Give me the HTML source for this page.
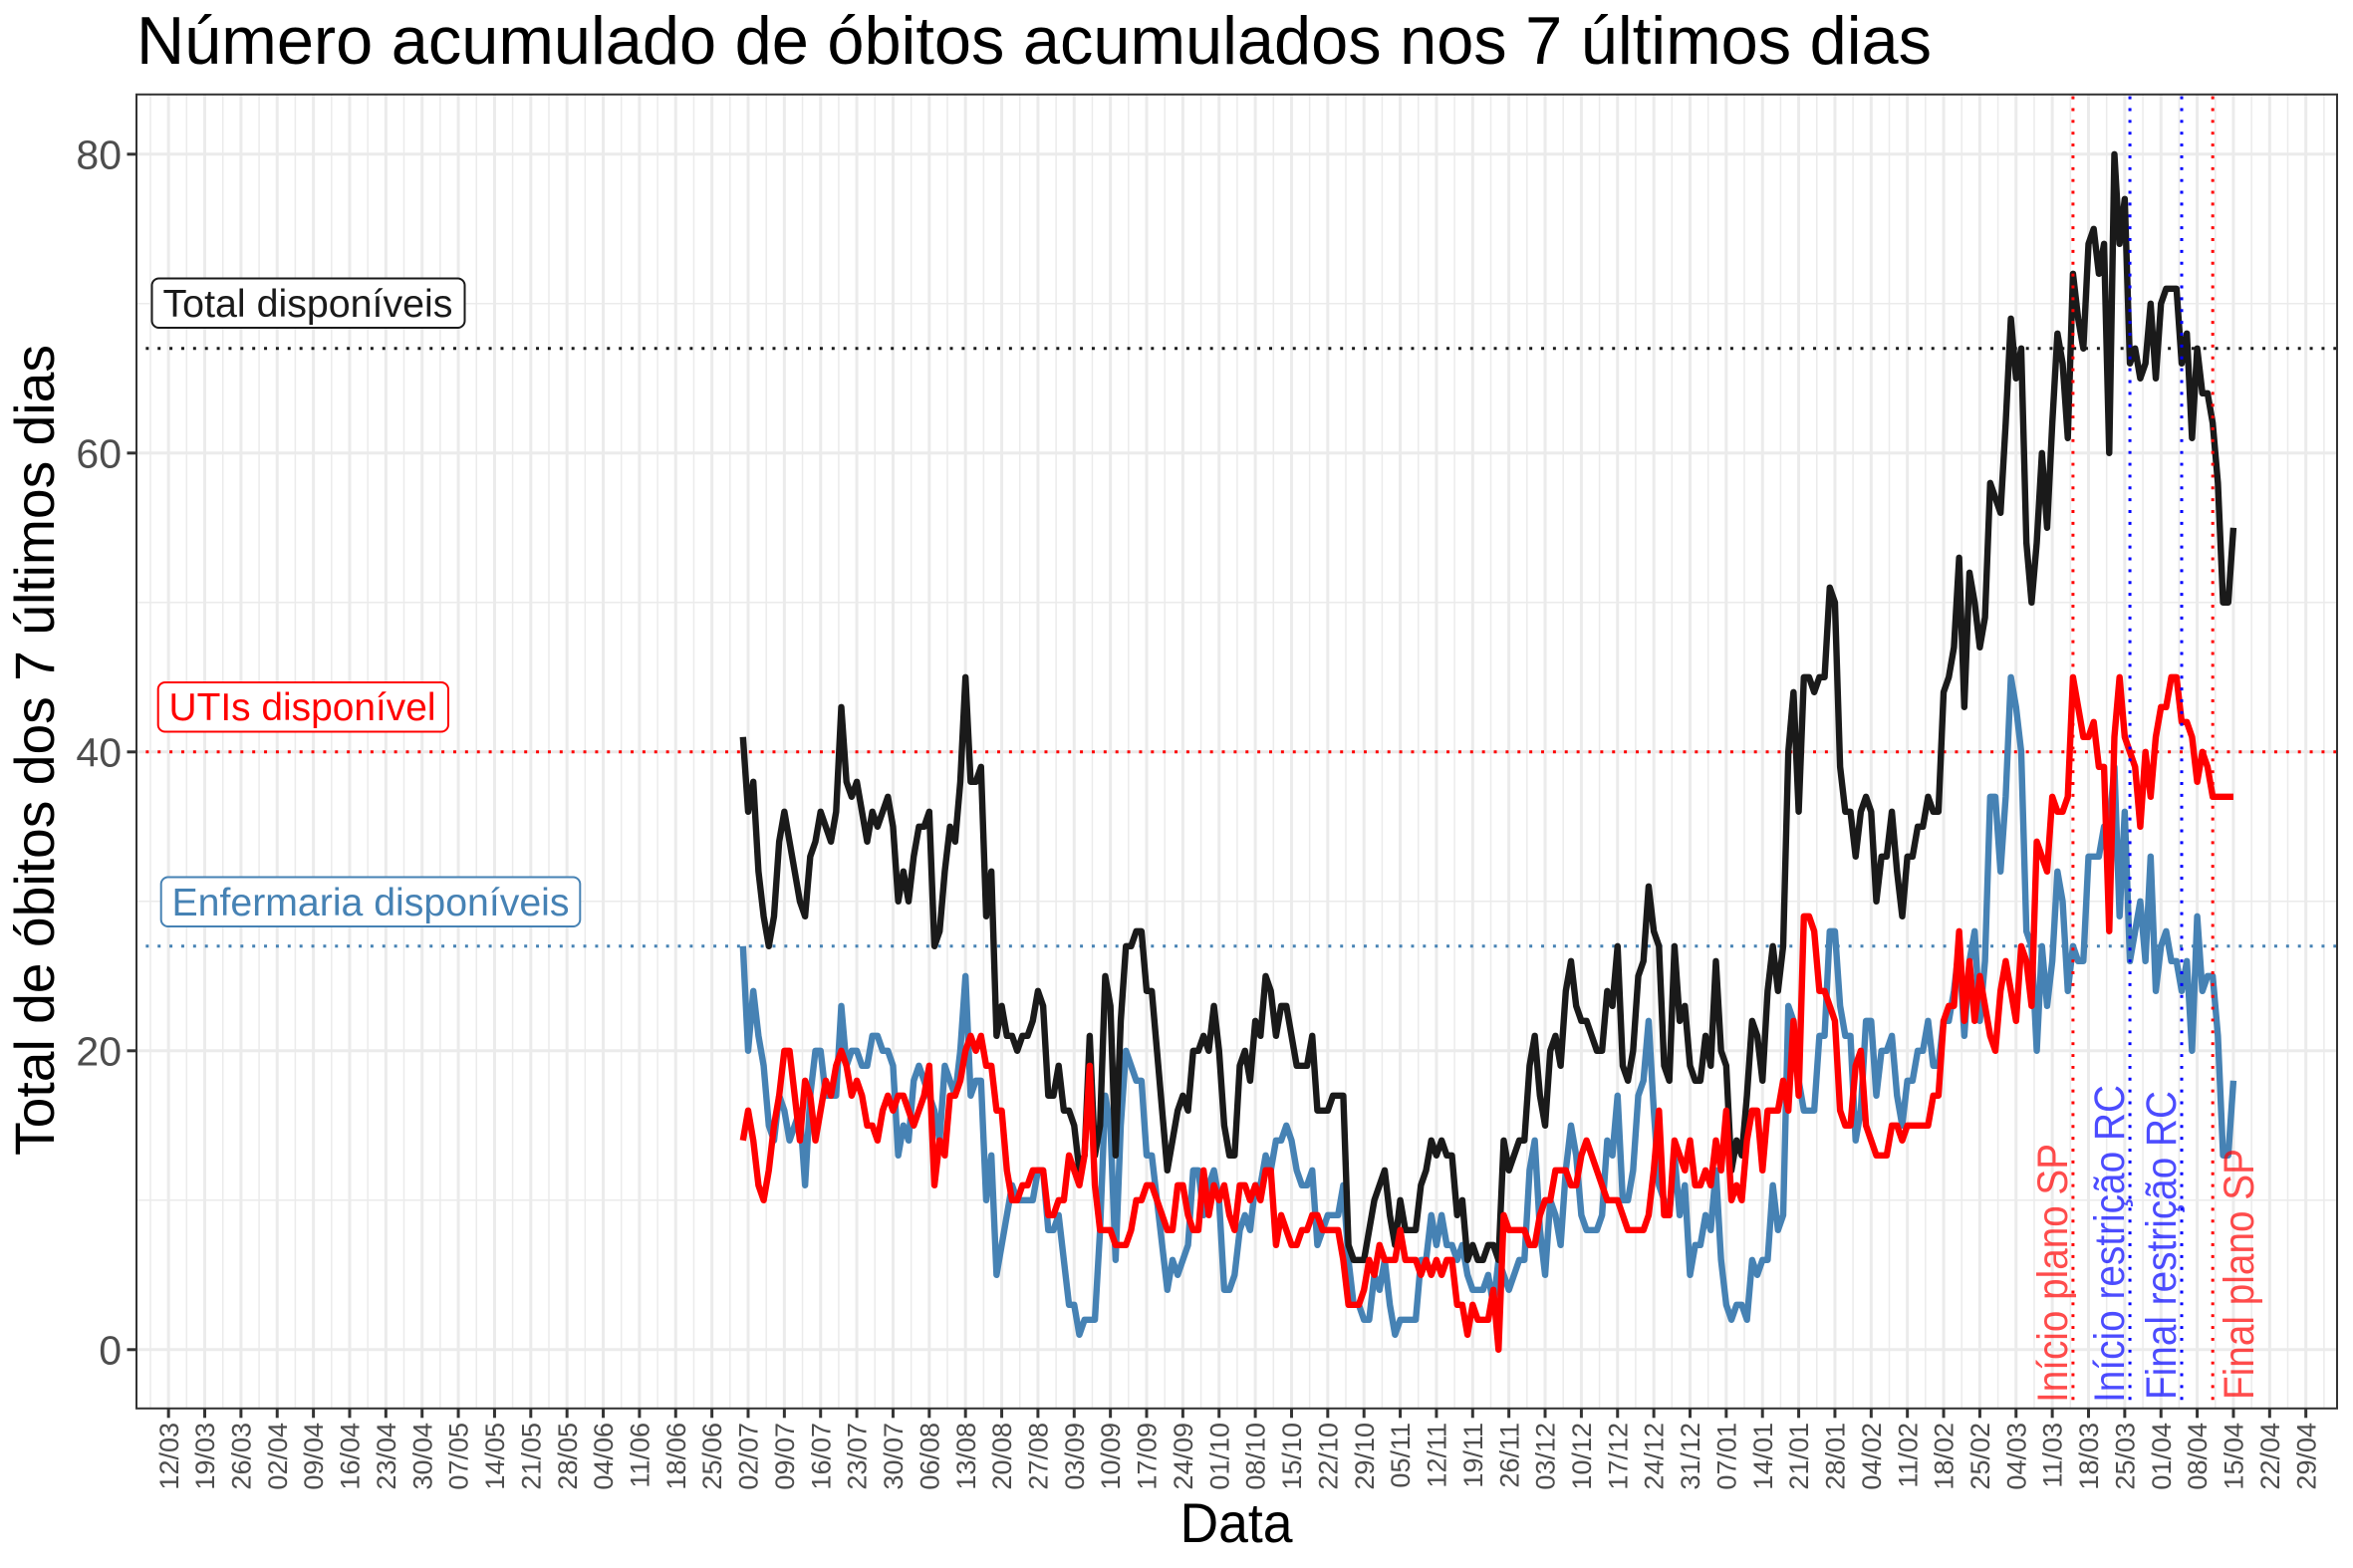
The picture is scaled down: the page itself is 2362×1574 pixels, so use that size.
<!DOCTYPE html>
<html lang="pt">
<head>
<meta charset="utf-8">
<title>Número acumulado de óbitos</title>
<style>
html,body{margin:0;padding:0;background:#fff;}
svg{display:block;font-family:"Liberation Sans",sans-serif;}
</style>
</head>
<body>
<svg id="chart" xmlns="http://www.w3.org/2000/svg" width="2362" height="1574" viewBox="0 0 2362 1574">
  <rect x="0" y="0" width="2362" height="1574" fill="#ffffff"/>
  <g id="grid"></g>
  <g id="hlines"></g>
  <g id="series"></g>
  <g id="vlines"></g>
  <g id="eventLabels"></g>
  <rect x="137" y="94.8" width="2209" height="1319" fill="none" stroke="#333333" stroke-width="2"/>
  <g id="axes"></g>
  <g>
    <rect x="152.5" y="279.5" width="314" height="49.5" rx="7" fill="#ffffff" stroke="#1a1a1a" stroke-width="2"/>
    <text x="163.5" y="318" font-size="39" fill="#1a1a1a" textLength="291" lengthAdjust="spacingAndGlyphs">Total disponíveis</text>
  </g>
  <g>
    <rect x="158.7" y="685" width="291.3" height="49.5" rx="7" fill="#ffffff" stroke="#ff0000" stroke-width="2"/>
    <text x="169.5" y="723" font-size="39" fill="#ff0000" textLength="268" lengthAdjust="spacingAndGlyphs">UTIs disponível</text>
  </g>
  <g>
    <rect x="161.7" y="880.5" width="420.6" height="49.5" rx="7" fill="#ffffff" stroke="#4682b4" stroke-width="2"/>
    <text x="172.5" y="919" font-size="39" fill="#4682b4" textLength="399" lengthAdjust="spacingAndGlyphs">Enfermaria disponíveis</text>
  </g>
  <text x="137" y="64" font-size="68" fill="#000000" textLength="1802" lengthAdjust="spacingAndGlyphs">Número acumulado de óbitos acumulados nos 7 últimos dias</text>
  <text transform="translate(54,1160) rotate(-90)" x="0" y="0" font-size="56" fill="#000000" textLength="814" lengthAdjust="spacingAndGlyphs">Total de óbitos dos 7 últimos dias</text>
  <text x="1241" y="1548" font-size="56" fill="#000000" text-anchor="middle" textLength="113" lengthAdjust="spacingAndGlyphs">Data</text>
</svg>
<script>
// ---- chart data ----
const startDate = '2020-07-01';
const firstTickDate = '2020-03-12';
const tickLabels = ['12/03','19/03','26/03','02/04','09/04','16/04','23/04','30/04','07/05','14/05','21/05','28/05','04/06','11/06','18/06','25/06','02/07','09/07','16/07','23/07','30/07','06/08','13/08','20/08','27/08','03/09','10/09','17/09','24/09','01/10','08/10','15/10','22/10','29/10','05/11','12/11','19/11','26/11','03/12','10/12','17/12','24/12','31/12','07/01','14/01','21/01','28/01','04/02','11/02','18/02','25/02','04/03','11/03','18/03','25/03','01/04','08/04','15/04','22/04','29/04'];
const yTicks = [0,20,40,60,80];
const yMinorTicks = [10,30,50,70];
const totalValues = [41,36,38,32,29,27,29,34,36,34,32,30,29,33,34,36,35,34,36,43,38,37,38,36,34,36,35,36,37,35,30,32,30,33,35,35,36,27,28,32,35,34,38,45,38,38,39,29,32,21,23,21,21,20,21,21,22,24,23,17,17,19,16,16,15,12,13,21,13,15,25,23,13,22,27,27,28,28,24,24,20,16,12,14,16,17,16,20,20,21,20,23,20,15,13,13,19,20,18,22,21,25,24,21,23,23,21,19,19,19,21,16,16,16,17,17,17,7,6,6,6,8,10,11,12,9,7,10,8,8,8,11,12,14,13,14,13,13,9,10,6,7,6,6,7,7,6,14,12,13,14,14,19,21,17,15,20,21,19,24,26,23,22,22,21,20,20,24,23,27,19,18,20,25,26,31,28,27,19,18,27,22,23,19,18,18,21,19,26,20,19,12,14,13,17,22,21,18,24,27,24,27,40,44,36,45,45,44,45,45,51,50,39,36,36,33,36,37,36,30,33,33,36,32,29,33,33,35,35,37,36,36,44,45,47,53,43,52,50,47,49,58,57,56,62,69,65,67,54,50,54,60,55,62,68,66,61,72,69,67,74,75,72,74,60,80,74,77,66,67,65,66,70,65,70,71,71,71,66,68,61,67,64,64,62,58,50,50,55];
const enfermariaValues = [27,20,24,21,19,15,14,17,16,14,15,16,11,17,20,20,17,17,17,23,19,20,20,19,19,21,21,20,20,19,13,15,14,18,19,18,17,16,14,19,18,17,20,25,17,18,18,10,13,5,7,9,11,10,10,10,10,12,12,8,8,9,6,3,3,1,2,2,2,8,17,15,6,15,20,19,18,18,13,13,10,7,4,6,5,6,7,12,12,9,11,12,10,4,4,5,8,9,8,11,11,13,12,14,14,15,14,12,11,11,12,7,8,9,9,9,11,6,3,3,2,2,5,4,6,3,1,2,2,2,2,6,6,9,7,9,7,7,6,7,5,4,4,4,5,3,6,5,4,5,6,6,12,14,8,5,10,9,7,12,15,13,9,8,8,8,9,14,13,17,10,10,12,17,18,22,16,11,10,9,13,9,11,5,7,7,9,8,12,6,3,2,3,3,2,6,5,6,6,11,8,9,23,22,18,16,16,16,21,21,28,28,23,21,21,14,16,22,22,17,20,20,21,17,15,18,18,20,20,22,19,19,22,22,24,27,21,26,28,22,26,37,37,32,37,45,43,40,28,27,20,27,23,26,32,30,24,27,26,26,33,33,33,35,35,39,29,36,26,28,30,26,33,24,27,28,26,26,24,26,20,29,24,25,25,21,13,13,18];
const utiValues = [14,16,14,11,10,12,15,17,20,20,17,14,18,17,14,16,18,17,19,20,19,17,18,17,15,15,14,16,17,16,17,17,16,15,16,17,19,11,14,13,17,17,18,20,21,20,21,19,19,16,16,12,10,10,11,11,12,12,12,9,9,10,10,13,12,11,13,19,11,8,8,8,7,7,7,8,10,10,11,11,10,9,8,8,11,11,9,8,8,12,9,11,10,11,9,8,11,11,10,11,10,12,12,7,9,8,7,7,8,8,9,9,8,8,8,8,6,3,3,3,4,6,5,7,6,6,6,8,6,6,6,5,6,5,6,5,6,6,3,3,1,3,2,2,2,4,0,9,8,8,8,8,7,7,9,10,10,12,12,12,11,11,13,14,13,12,11,10,10,10,9,8,8,8,8,9,12,16,9,9,14,13,12,14,11,11,12,11,14,12,16,10,11,10,14,16,16,12,16,16,16,18,16,22,17,29,29,28,24,24,23,22,16,15,15,19,20,15,14,13,13,13,15,15,14,15,15,15,15,15,17,17,22,23,23,28,22,26,22,25,23,21,20,24,26,24,22,27,26,23,34,33,32,37,36,36,37,45,43,41,41,42,39,39,28,41,45,41,40,39,35,40,37,41,43,43,45,45,42,42,41,38,40,39,37,37,37,37,37];
const capacityValues = [67,40,27];
const eventDates = ['2021-03-15','2021-03-26','2021-04-05','2021-04-11'];
const eventLabels = ['Início plano SP','Início restrição RC','Final restrição RC','Final plano SP'];

// ---- scales ----
const SVGNS = 'http://www.w3.org/2000/svg';
const DAY = 86400000;
const panel = {left:137, right:2346, top:94.8, bottom:1413.8};
function dayOffset(iso){ return Math.round((Date.parse(iso+'T00:00:00Z') - Date.parse(startDate+'T00:00:00Z'))/DAY); }
function xScale(d){ return 745.8 + 5.195*d; }
function yScale(v){ return 1414.8 - (v + 4)*(1320/88); }
function make(tag, attrs, parent){
  const el = document.createElementNS(SVGNS, tag);
  for (const k in attrs) el.setAttribute(k, attrs[k]);
  parent.appendChild(el);
  return el;
}
const gridG = document.getElementById('grid');
const hG = document.getElementById('hlines');
const seriesG = document.getElementById('series');
const vG = document.getElementById('vlines');
const evG = document.getElementById('eventLabels');
const axG = document.getElementById('axes');
const firstTick = dayOffset(firstTickDate);

// ---- grid ----
yMinorTicks.forEach(function(v){
  const el = make('line',{x1:panel.left,x2:panel.right,y1:yScale(v),y2:yScale(v),stroke:'#ebebeb','stroke-width':1.5},gridG);
  
  
});
tickLabels.forEach(function(lbl,i){
  const x = xScale(firstTick + 7*i - 3.5);
  const el = make('line',{x1:x,x2:x,y1:panel.top,y2:panel.bottom,stroke:'#ebebeb','stroke-width':1.5},gridG);
  
  
});
const lastMinor = xScale(firstTick + 7*tickLabels.length - 3.5);
const lastMinorLine = make('line',{x1:lastMinor,x2:lastMinor,y1:panel.top,y2:panel.bottom,stroke:'#ebebeb','stroke-width':1.5},gridG);


yTicks.forEach(function(v){
  const el = make('line',{x1:panel.left,x2:panel.right,y1:yScale(v),y2:yScale(v),stroke:'#ebebeb','stroke-width':3},gridG);
  
  
});
tickLabels.forEach(function(lbl,i){
  const x = xScale(firstTick + 7*i);
  const el = make('line',{x1:x,x2:x,y1:panel.top,y2:panel.bottom,stroke:'#ebebeb','stroke-width':3},gridG);
  
  
});

// ---- horizontal capacity lines ----
const capacityColors = ['#1a1a1a','#ff0000','#4682b4'];
const capacityNames = ['capacity-line-total','capacity-line-uti','capacity-line-enfermaria'];
capacityValues.forEach(function(v,i){
  const el = make('line',{x1:panel.left,x2:panel.right,y1:yScale(v),y2:yScale(v),stroke:capacityColors[i],'stroke-width':3,'stroke-dasharray':'2.97 8.9','stroke-dashoffset':2.5},hG);
  
  
});

// ---- series ----
function linePath(values){
  return values.map(function(v,i){ return (i?'L':'M') + xScale(i).toFixed(2) + ' ' + yScale(v).toFixed(2); }).join('');
}
const enfermariaLine = make('path',{d:linePath(enfermariaValues),fill:'none',stroke:'#4682b4','stroke-width':6.4,'stroke-linejoin':'round','stroke-linecap':'butt'},seriesG);


const totalLine = make('path',{d:linePath(totalValues),fill:'none',stroke:'#1a1a1a','stroke-width':6.4,'stroke-linejoin':'round','stroke-linecap':'butt'},seriesG);


const utiLine = make('path',{d:linePath(utiValues),fill:'none',stroke:'#ff0000','stroke-width':6.4,'stroke-linejoin':'round','stroke-linecap':'butt'},seriesG);



// ---- vertical event lines and labels ----
const eventColors = ['#ff0000','#0000ff','#0000ff','#ff0000'];
const eventLabelStart = [1408,1408,1405,1405];
const eventLabelLen = [260,319,310,252];
const eventLabelGap = [6,6,6,-41];
eventDates.forEach(function(dt,i){
  const x = xScale(dayOffset(dt));
  const el = make('line',{x1:x,x2:x,y1:96.6,y2:panel.bottom,stroke:eventColors[i],'stroke-width':3,'stroke-dasharray':'2.97 8.9'},vG);
  
  
  const bx = x - eventLabelGap[i];
  const t = make('text',{transform:'translate('+bx+','+eventLabelStart[i]+') rotate(-90)','font-size':42.5,fill:eventColors[i],'fill-opacity':0.7,textLength:eventLabelLen[i],lengthAdjust:'spacingAndGlyphs'},evG);
  t.textContent = eventLabels[i];
  
  
});

// ---- axes ----
yTicks.forEach(function(v){
  const y = yScale(v);
  const tick = make('line',{x1:127.5,x2:panel.left,y1:y,y2:y,stroke:'#333333','stroke-width':3},axG);
  
  
  const t = make('text',{x:122,y:y+14.6,'font-size':41,fill:'#4d4d4d','text-anchor':'end'},axG);
  t.textContent = String(v);
  
  
});
tickLabels.forEach(function(lbl,i){
  const x = xScale(firstTick + 7*i);
  const tick = make('line',{x1:x,x2:x,y1:panel.bottom,y2:panel.bottom+9.5,stroke:'#333333','stroke-width':3},axG);
  
  
  const t = make('text',{transform:'translate('+(x+9.6)+',1428) rotate(-90)','font-size':27,fill:'#4d4d4d','text-anchor':'end'},axG);
  t.textContent = lbl;
  
  
});
</script>
</body>
</html>
